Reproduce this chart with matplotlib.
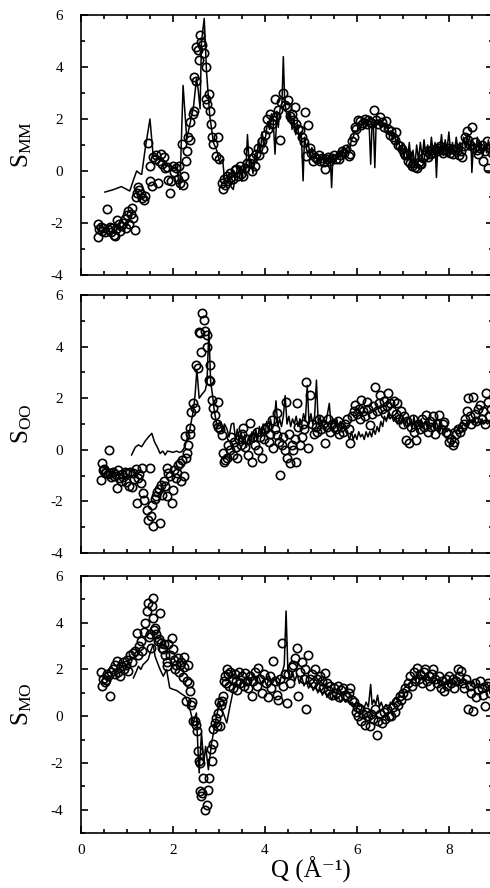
import numpy as np
import matplotlib.pyplot as plt
from matplotlib.ticker import MultipleLocator

# ---- data: (Q, S) pairs ----
# S_MM : experiment (circles) and model (line)
mm_exp = [(0.36,-2.52),(0.38,-2.05),(0.40,-2.25),(0.43,-2.15),(0.45,-2.30),(0.48,-2.20),(0.52,-2.35),(0.56,-1.46),
          (0.58,-2.25),(0.62,-2.15),(0.65,-2.35),(0.68,-2.20),(0.72,-2.45),(0.74,-2.50),(0.77,-2.25),(0.79,-1.87),
          (0.82,-2.05),(0.85,-2.30),(0.88,-2.10),(0.92,-2.00),(0.95,-1.85),(0.97,-2.20),(1.00,-1.70),(1.03,-1.55),
          (1.05,-2.05),(1.08,-1.65),(1.10,-1.42),(1.14,-1.80),(1.17,-2.28),(1.19,-1.00),(1.21,-0.84),(1.24,-0.62),
          (1.27,-0.75),(1.30,-0.90),(1.33,-1.05),(1.36,-1.12),(1.40,-0.95),(1.45,1.07),(1.49,0.20),(1.50,-0.40),
          (1.54,-0.58),(1.56,0.55),(1.60,0.45),(1.64,0.62),(1.67,-0.45),(1.70,0.40),(1.73,0.65),(1.76,0.25),
          (1.80,0.55),(1.83,0.10),(1.86,0.15),(1.90,-0.35),(1.93,-0.84),(1.96,-0.40),(2.00,0.20),(2.03,-0.05),
          (2.07,0.10),(2.10,-0.30),(2.14,0.20),(2.16,-0.45),(2.19,1.03),(2.22,-0.52),(2.25,-0.20),(2.28,0.39),
          (2.31,0.77),(2.33,1.29),(2.36,1.20),(2.38,1.87),(2.43,2.19),(2.46,2.32),(2.46,3.61),(2.50,3.48),
          (2.51,4.77),(2.55,4.65),(2.57,4.26),(2.59,5.23),(2.62,4.97),(2.64,4.85),(2.67,4.52),(2.71,2.77),
          (2.72,4.00),(2.75,2.58),(2.79,2.97),(2.80,2.32),(2.82,1.81),(2.84,1.29),(2.88,1.03),(2.94,0.58),
          (2.97,1.29),(3.01,0.45),(3.06,-0.45),(3.09,-0.71),(3.11,-0.30),(3.14,-0.55),(3.17,-0.19),(3.20,-0.40),
          (3.24,-0.06),(3.27,-0.25),(3.31,-0.32),(3.34,0.05),(3.38,0.06),(3.41,-0.20),(3.46,0.19),(3.49,-0.10),
          (3.53,-0.19),(3.56,0.10),(3.60,0.30),(3.64,0.78),(3.67,0.30),(3.71,0.00),(3.74,0.50),(3.78,0.20),
          (3.81,0.65),(3.85,0.90),(3.88,0.60),(3.93,1.16),(3.96,0.85),(4.00,1.40),(4.04,2.00),(4.07,1.60),
          (4.11,2.20),(4.15,1.80),(4.18,1.95),(4.21,2.78),(4.25,2.10),(4.28,2.33),(4.33,1.20),(4.36,2.65),
          (4.40,3.00),(4.44,2.55),(4.47,2.46),(4.51,2.72),(4.54,2.10),(4.58,2.20),(4.61,1.95),(4.65,2.46),
          (4.68,1.80),(4.72,1.60),(4.77,1.56),(4.80,1.30),(4.84,1.10),(4.87,2.27),(4.90,0.59),(4.94,1.75),
          (4.97,0.90),(5.01,0.70),(5.05,0.40),(5.09,0.55),(5.13,0.45),(5.17,0.60),(5.20,0.40),(5.24,0.50),
          (5.28,0.35),(5.30,0.07),(5.34,0.45),(5.38,0.55),(5.42,0.40),(5.46,0.50),(5.50,0.60),(5.55,0.45),
          (5.60,0.46),(5.64,0.60),(5.68,0.75),(5.72,0.70),(5.77,0.85),(5.82,0.59),(5.85,0.65),(5.89,1.16),
          (5.93,1.30),(5.96,1.68),(5.99,1.60),(6.03,1.95),(6.06,1.94),(6.10,1.75),(6.14,1.85),(6.17,2.00),
          (6.21,1.80),(6.25,1.95),(6.29,1.90),(6.33,1.85),(6.37,2.33),(6.41,1.95),(6.45,1.80),(6.50,2.07),
          (6.54,1.90),(6.58,1.70),(6.64,1.94),(6.68,1.60),(6.71,1.40),(6.75,1.55),(6.79,1.30),(6.83,1.20),
          (6.86,1.49),(6.90,1.00),(6.94,0.97),(6.98,0.85),(7.02,0.70),(7.05,0.60),(7.08,0.65),(7.12,0.40),
          (7.15,0.30),(7.19,0.20),(7.23,0.30),(7.27,0.15),(7.30,0.13),(7.34,0.35),(7.37,0.25),(7.40,0.26),
          (7.44,0.50),(7.48,0.60),(7.52,0.75),(7.55,0.55),(7.58,0.65),(7.62,0.80),(7.66,0.70),(7.70,0.85),
          (7.74,0.75),(7.77,0.90),(7.80,0.97),(7.84,0.80),(7.88,0.70),(7.92,0.85),(7.95,0.78),(7.99,0.90),
          (8.03,0.70),(8.06,0.85),(8.10,0.65),(8.14,0.80),(8.18,0.90),(8.22,0.60),(8.26,0.75),(8.28,0.52),
          (8.32,0.95),(8.35,1.30),(8.39,1.55),(8.42,1.20),(8.46,1.00),(8.50,1.68),(8.54,0.90),(8.57,1.10),
          (8.61,0.80),(8.64,0.65),(8.68,0.90),(8.71,1.00),(8.75,0.39),(8.78,0.75),(8.82,1.16),(8.86,0.13),
          (8.90,0.90),(8.93,0.70)]
mm_fit = [(0.52,-0.81),(0.70,-0.72),(0.88,-0.60),(1.06,-0.77),(1.14,-0.35),(1.21,0.00),(1.28,-0.10),(1.32,-0.13),
          (1.40,0.90),(1.50,2.00),(1.57,0.58),(1.64,0.55),(1.72,0.45),(1.79,0.35),(1.86,0.19),(1.93,0.20),
          (2.00,0.13),(2.08,0.15),(2.15,-0.71),(2.22,3.29),(2.30,1.23),(2.38,1.90),(2.45,2.52),(2.51,3.55),
          (2.55,3.10),(2.59,2.39),(2.62,4.97),(2.68,5.87),(2.73,3.81),(2.80,2.13),(2.88,1.10),(2.95,0.80),
          (3.02,0.32),(3.08,0.45),(3.12,-0.30),(3.17,-0.45),(3.22,-0.10),(3.26,-0.60),(3.31,-0.71),(3.36,-0.20),
          (3.40,0.10),(3.46,0.19),(3.50,-0.40),(3.54,0.30),(3.58,-0.20),(3.62,1.40),(3.66,0.20),(3.70,0.40),
          (3.74,-0.10),(3.78,0.60),(3.82,0.30),(3.86,1.20),(3.90,0.70),(3.94,1.50),(3.98,0.90),(4.02,1.40),
          (4.06,1.90),(4.10,1.60),(4.14,2.20),(4.18,1.90),(4.22,0.65),(4.26,2.30),(4.29,1.68),(4.33,2.40),
          (4.37,2.60),(4.40,4.40),(4.43,2.70),(4.47,2.20),(4.51,1.90),(4.55,2.30),(4.59,1.60),(4.63,2.00),
          (4.67,1.40),(4.71,1.80),(4.75,1.20),(4.79,1.50),(4.83,-0.38),(4.86,1.30),(4.90,0.90),(4.94,1.10),
          (4.98,0.60),(5.02,0.90),(5.06,0.40),(5.10,0.70),(5.14,0.30),(5.18,0.60),(5.22,0.40),(5.26,0.70),
          (5.30,0.35),(5.34,0.55),(5.38,0.40),(5.42,0.60),(5.45,-0.64),(5.48,0.60),(5.52,0.40),(5.56,0.70),
          (5.60,0.50),(5.64,0.80),(5.68,0.60),(5.72,0.90),(5.76,0.70),(5.80,1.00),(5.84,0.80),(5.88,1.20),
          (5.92,1.30),(5.96,1.55),(6.00,1.50),(6.04,1.80),(6.08,1.70),(6.12,1.90),(6.16,1.80),(6.20,2.00),
          (6.24,1.90),(6.27,1.60),(6.30,0.26),(6.33,1.80),(6.36,1.70),(6.39,0.13),(6.42,1.90),(6.46,1.80),
          (6.50,1.95),(6.54,1.70),(6.58,1.85),(6.62,1.60),(6.66,1.75),(6.70,1.40),(6.74,1.55),(6.78,1.20),
          (6.82,1.40),(6.86,1.00),(6.90,1.30),(6.94,0.80),(6.98,1.00),(7.02,0.50),(7.06,0.90),(7.10,0.40),
          (7.14,1.10),(7.18,0.30),(7.22,0.80),(7.26,0.20),(7.30,1.00),(7.34,0.40),(7.38,1.10),(7.42,0.50),
          (7.46,1.20),(7.50,0.60),(7.54,1.00),(7.58,0.50),(7.62,1.30),(7.66,0.70),(7.70,1.10),(7.73,-0.25),
          (7.76,1.00),(7.80,0.70),(7.84,1.40),(7.88,0.60),(7.92,1.20),(7.96,0.80),(8.00,1.50),(8.04,0.70),
          (8.08,1.10),(8.12,0.60),(8.16,1.30),(8.20,0.80),(8.24,1.10),(8.28,0.70),(8.32,1.30),(8.36,0.90),
          (8.40,1.40),(8.44,0.80),(8.48,1.20),(8.50,-0.06),(8.54,1.10),(8.58,0.70),(8.62,1.30),(8.66,0.80),
          (8.70,1.10),(8.74,0.60),(8.78,1.00),(8.82,0.70),(8.86,1.20),(8.90,0.80),(8.94,1.00)]

# S_OO
oo_exp = [(0.43,-1.16),(0.45,-0.52),(0.47,-0.80),(0.50,-0.75),(0.52,-0.90),(0.55,-0.85),(0.58,-0.95),(0.61,0.00),
          (0.63,-0.90),(0.66,-1.05),(0.69,-0.85),(0.72,-1.00),(0.75,-0.95),(0.78,-1.48),(0.80,-0.80),(0.83,-1.10),
          (0.86,-1.20),(0.89,-0.95),(0.92,-1.05),(0.95,-0.85),(0.98,-1.25),(1.01,-0.90),(1.04,-1.40),(1.07,-0.85),
          (1.10,-1.45),(1.13,-0.90),(1.16,-1.15),(1.19,-0.75),(1.21,-2.06),(1.24,-1.10),(1.27,-0.95),(1.30,-1.30),
          (1.33,-0.72),(1.35,-1.68),(1.38,-1.95),(1.43,-2.32),(1.46,-2.71),(1.50,-0.71),(1.52,-2.55),(1.54,-2.13),
          (1.57,-2.97),(1.60,-1.90),(1.63,-1.80),(1.66,-1.65),(1.69,-1.50),(1.72,-2.84),(1.74,-1.35),(1.77,-1.75),
          (1.80,-1.20),(1.83,-1.40),(1.86,-0.71),(1.88,-1.80),(1.90,-0.90),(1.94,-1.00),(1.97,-2.06),(2.00,-1.55),
          (2.03,-0.80),(2.06,-1.10),(2.08,-0.90),(2.11,-0.60),(2.15,-0.52),(2.18,-1.20),(2.20,-0.40),(2.23,-1.00),
          (2.26,0.52),(2.28,-0.30),(2.30,-0.13),(2.33,0.19),(2.36,0.60),(2.38,0.84),(2.40,1.48),(2.44,1.80),
          (2.48,1.61),(2.51,3.29),(2.55,3.16),(2.57,4.58),(2.59,4.52),(2.62,3.81),(2.64,5.32),(2.67,5.03),
          (2.70,4.60),(2.73,4.45),(2.74,4.00),(2.78,2.70),(2.80,3.29),(2.80,2.65),(2.84,1.94),(2.88,1.61),
          (2.91,1.35),(2.95,1.00),(2.99,1.87),(2.99,0.90),(3.03,0.80),(3.06,0.58),(3.08,-0.13),(3.10,-0.46),
          (3.13,-0.39),(3.17,-0.33),(3.20,0.20),(3.24,0.00),(3.27,0.50),(3.30,-0.20),(3.33,0.30),(3.37,0.10),
          (3.40,-0.30),(3.43,0.40),(3.47,0.20),(3.50,0.60),(3.53,0.83),(3.56,0.10),(3.60,0.40),(3.64,-0.20),
          (3.68,1.03),(3.71,-0.46),(3.74,0.50),(3.78,0.20),(3.82,0.70),(3.86,0.00),(3.90,0.50),(3.93,-0.33),
          (3.97,0.40),(4.00,0.80),(4.04,0.90),(4.08,0.30),(4.12,0.60),(4.15,1.16),(4.18,0.06),(4.22,0.80),
          (4.26,1.41),(4.26,0.57),(4.30,0.30),(4.33,-0.98),(4.37,0.20),(4.40,0.50),(4.43,0.00),(4.45,1.87),
          (4.48,-0.30),(4.52,0.60),(4.55,-0.50),(4.58,0.20),(4.62,-0.01),(4.65,0.40),(4.67,-0.46),(4.69,1.80),
          (4.72,0.90),(4.76,0.20),(4.80,0.50),(4.83,1.00),(4.86,0.80),(4.90,2.64),(4.94,0.06),(4.98,2.12),
          (5.02,1.00),(5.06,0.60),(5.10,0.90),(5.14,0.70),(5.18,1.20),(5.22,0.80),(5.26,1.00),(5.30,0.25),
          (5.34,0.90),(5.38,1.20),(5.42,0.70),(5.46,1.00),(5.50,0.90),(5.54,0.80),(5.58,1.10),(5.62,0.60),
          (5.66,0.90),(5.70,0.70),(5.74,1.00),(5.78,1.20),(5.82,0.80),(5.85,0.25),(5.90,1.30),(5.93,1.50),
          (5.96,1.74),(6.00,1.40),(6.04,1.60),(6.07,1.20),(6.10,1.93),(6.14,1.50),(6.17,1.30),(6.21,1.87),
          (6.25,1.60),(6.28,0.96),(6.32,1.40),(6.36,1.70),(6.39,2.45),(6.43,1.50),(6.47,1.80),(6.50,2.12),
          (6.54,1.60),(6.58,1.90),(6.62,1.40),(6.65,1.70),(6.68,2.19),(6.72,1.80),(6.76,1.50),(6.80,1.90),
          (6.84,1.40),(6.88,1.80),(6.92,1.20),(6.96,1.50),(7.00,1.00),(7.03,1.30),(7.07,0.38),(7.10,1.10),
          (7.14,0.25),(7.18,0.90),(7.22,1.20),(7.25,0.70),(7.29,0.38),(7.33,1.00),(7.37,0.80),(7.41,1.20),
          (7.45,0.90),(7.50,1.35),(7.54,0.70),(7.58,1.10),(7.62,0.90),(7.66,1.30),(7.70,0.60),(7.74,1.00),
          (7.79,1.35),(7.83,0.80),(7.87,1.00),(7.90,1.09),(7.94,0.70),(7.98,0.60),(8.00,0.32),(8.04,0.40),
          (8.08,0.19),(8.12,0.30),(8.16,0.60),(8.20,0.80),(8.24,0.70),(8.28,0.90),(8.32,1.00),(8.36,1.20),
          (8.40,1.50),(8.42,2.00),(8.46,1.30),(8.49,1.00),(8.52,2.06),(8.56,1.40),(8.60,1.10),(8.64,1.60),
          (8.67,1.74),(8.71,1.20),(8.75,1.50),(8.78,1.00),(8.80,2.19),(8.85,1.87),(8.88,1.30),(8.92,1.60)]
oo_fit = [(1.10,-0.20),(1.18,0.10),(1.25,0.19),(1.32,0.12),(1.40,0.35),(1.47,0.50),(1.54,0.64),(1.60,0.30),
          (1.66,0.10),(1.72,-0.14),(1.78,-0.05),(1.83,-0.20),(1.88,-0.05),(1.94,-0.07),(2.00,-0.10),(2.08,-0.05),
          (2.14,-0.10),(2.19,-0.07),(2.26,0.12),(2.32,0.50),(2.37,0.83),(2.44,1.48),(2.48,2.10),(2.52,3.10),
          (2.57,2.00),(2.63,2.15),(2.70,2.30),(2.74,2.60),(2.78,4.64),(2.82,2.64),(2.86,2.12),(2.90,1.50),
          (2.96,0.90),(3.03,1.10),(3.08,0.70),(3.12,1.00),(3.17,0.83),(3.22,0.50),(3.27,1.00),(3.32,1.03),
          (3.36,0.40),(3.40,0.80),(3.44,0.30),(3.48,0.70),(3.52,0.20),(3.56,0.60),(3.60,0.10),(3.64,0.50),
          (3.68,0.20),(3.72,0.70),(3.76,0.30),(3.80,0.80),(3.84,0.40),(3.88,0.90),(3.92,0.50),(3.96,1.00),
          (4.00,0.60),(4.04,1.10),(4.08,0.70),(4.12,1.20),(4.16,0.80),(4.20,1.00),(4.24,1.90),(4.28,0.90),
          (4.32,1.20),(4.36,0.90),(4.40,1.30),(4.44,2.10),(4.48,1.00),(4.52,1.30),(4.56,0.90),(4.60,1.20),
          (4.64,1.00),(4.68,1.30),(4.72,0.90),(4.76,1.20),(4.80,1.00),(4.84,1.40),(4.88,1.10),(4.92,2.50),
          (4.96,1.00),(5.00,1.40),(5.04,1.00),(5.08,1.30),(5.12,2.70),(5.16,1.00),(5.20,1.30),(5.24,0.90),
          (5.28,1.20),(5.32,1.00),(5.36,1.40),(5.40,1.80),(5.44,0.90),(5.48,1.20),(5.52,1.00),(5.56,1.20),
          (5.60,0.90),(5.64,1.10),(5.68,0.80),(5.72,1.00),(5.76,0.70),(5.80,0.60),(5.84,0.40),(5.88,0.70),
          (5.92,0.40),(5.96,0.60),(6.00,0.40),(6.04,0.70),(6.08,0.50),(6.12,0.60),(6.16,0.40),(6.20,0.70),
          (6.24,0.50),(6.28,0.70),(6.32,0.50),(6.36,0.80),(6.40,0.60),(6.44,0.90),(6.48,0.70),(6.52,1.10),
          (6.56,0.90),(6.60,1.30),(6.64,1.10),(6.68,1.40),(6.72,1.20),(6.76,1.30),(6.80,1.10),(6.84,1.30),
          (6.88,1.00),(6.92,1.20),(6.96,1.00),(7.00,1.30),(7.04,0.90),(7.08,1.20),(7.12,0.90),(7.16,1.10),
          (7.20,0.80),(7.24,1.30),(7.28,0.80),(7.32,1.10),(7.36,0.90),(7.40,1.20),(7.44,0.80),(7.48,1.10),
          (7.52,0.90),(7.56,1.20),(7.60,0.80),(7.64,1.00),(7.68,0.80),(7.72,1.10),(7.76,0.90),(7.80,0.70),
          (7.84,0.90),(7.88,0.70),(7.92,0.90),(7.96,0.70),(8.00,0.80),(8.04,0.70),(8.08,0.80),(8.12,0.80),
          (8.16,0.90),(8.20,0.80),(8.24,0.90),(8.28,0.90),(8.32,1.00),(8.36,0.90),(8.40,1.10),(8.44,1.00),
          (8.48,1.10),(8.52,1.00),(8.56,1.20),(8.60,1.00),(8.64,1.10),(8.68,1.00),(8.72,1.20),(8.76,1.00),
          (8.80,1.10),(8.84,1.00),(8.88,1.10),(8.92,1.00)]

# S_MO
mo_exp = [(0.43,1.89),(0.45,1.29),(0.48,1.60),(0.52,1.45),(0.54,1.57),(0.57,1.80),(0.59,1.71),(0.63,0.86),
          (0.66,1.90),(0.70,2.00),(0.73,1.80),(0.75,2.20),(0.78,2.36),(0.81,1.90),(0.85,1.71),(0.88,2.14),
          (0.91,2.30),(0.94,2.00),(0.97,2.20),(1.00,2.40),(1.03,1.95),(1.06,2.60),(1.10,2.30),(1.13,2.70),
          (1.17,2.79),(1.21,3.57),(1.24,2.60),(1.27,3.00),(1.30,3.20),(1.33,2.80),(1.37,3.60),(1.40,4.00),
          (1.43,4.50),(1.46,4.86),(1.48,3.40),(1.50,3.50),(1.52,2.90),(1.54,4.71),(1.56,4.21),(1.57,5.07),
          (1.59,3.70),(1.61,3.79),(1.64,3.50),(1.67,3.20),(1.69,3.30),(1.72,4.43),(1.75,3.14),(1.77,2.90),
          (1.79,2.86),(1.81,3.10),(1.83,2.64),(1.86,2.14),(1.88,2.30),(1.90,3.07),(1.94,2.60),(1.97,3.36),
          (2.00,2.86),(2.02,2.40),(2.04,2.00),(2.07,2.20),(2.11,2.50),(2.13,1.90),(2.15,2.21),(2.18,2.30),
          (2.21,1.69),(2.23,2.10),(2.25,2.54),(2.28,0.64),(2.30,1.50),(2.33,2.21),(2.35,1.40),(2.37,1.07),
          (2.40,0.50),(2.42,0.60),(2.44,-0.21),(2.47,-0.20),(2.50,-0.36),(2.53,-0.64),(2.55,-1.50),(2.57,-1.93),
          (2.59,-2.00),(2.59,-3.21),(2.62,-3.43),(2.64,-3.30),(2.66,-2.64),(2.70,-4.00),(2.73,-3.79),(2.77,-3.14),
          (2.79,-2.64),(2.82,-1.40),(2.84,-1.93),(2.86,-1.20),(2.88,-0.57),(2.91,-0.30),(2.94,-0.07),(2.95,-0.43),
          (2.97,0.14),(3.00,0.60),(3.02,-0.43),(3.04,0.50),(3.06,0.64),(3.09,0.86),(3.11,1.50),(3.13,1.71),
          (3.15,1.40),(3.17,2.00),(3.20,1.80),(3.22,1.30),(3.25,1.90),(3.28,1.60),(3.31,1.20),(3.34,1.80),
          (3.37,1.50),(3.40,1.10),(3.43,1.90),(3.46,1.40),(3.50,1.70),(3.54,1.30),(3.57,1.86),(3.60,1.50),
          (3.64,1.20),(3.68,1.70),(3.71,0.86),(3.75,1.50),(3.79,1.90),(3.83,1.30),(3.86,2.07),(3.90,1.60),
          (3.94,1.00),(3.98,1.80),(4.02,1.40),(4.06,0.80),(4.10,1.70),(4.14,1.20),(4.18,2.36),(4.22,1.50),
          (4.26,0.90),(4.29,0.71),(4.33,1.60),(4.37,3.14),(4.40,1.30),(4.44,1.80),(4.47,0.57),(4.51,1.79),
          (4.55,1.40),(4.58,2.10),(4.62,2.20),(4.65,2.50),(4.69,2.93),(4.72,0.86),(4.76,1.90),(4.80,2.30),
          (4.84,1.60),(4.87,2.00),(4.90,0.29),(4.94,2.64),(4.98,1.60),(5.02,1.80),(5.05,1.40),(5.09,2.00),
          (5.13,1.60),(5.17,1.30),(5.20,1.70),(5.24,1.50),(5.27,1.20),(5.30,1.86),(5.34,1.40),(5.38,1.10),
          (5.42,1.30),(5.46,0.90),(5.50,1.20),(5.54,1.00),(5.58,1.30),(5.62,0.80),(5.66,1.10),(5.70,1.20),
          (5.74,0.90),(5.78,0.80),(5.82,1.00),(5.85,1.21),(5.89,0.70),(5.93,0.60),(5.97,0.20),(6.00,0.40),
          (6.03,0.00),(6.07,0.30),(6.10,-0.20),(6.14,0.10),(6.17,-0.36),(6.20,0.20),(6.24,0.00),(6.28,-0.40),
          (6.31,0.10),(6.35,-0.10),(6.39,0.30),(6.43,-0.79),(6.46,-0.20),(6.50,0.10),(6.54,-0.30),(6.58,0.20),
          (6.62,-0.10),(6.66,0.30),(6.70,0.00),(6.75,0.00),(6.78,0.40),(6.82,0.20),(6.86,0.60),(6.90,0.50),
          (6.93,0.86),(6.97,0.70),(7.01,1.00),(7.05,1.20),(7.08,0.90),(7.12,1.43),(7.16,1.70),(7.20,1.30),
          (7.24,1.90),(7.27,1.50),(7.30,2.07),(7.34,1.60),(7.38,1.80),(7.42,1.40),(7.45,1.90),(7.48,2.00),
          (7.52,1.50),(7.56,1.70),(7.60,1.30),(7.63,1.80),(7.66,2.00),(7.70,1.60),(7.74,1.40),(7.78,1.70),
          (7.82,1.20),(7.86,1.50),(7.90,1.07),(7.94,1.60),(7.97,1.30),(8.01,1.70),(8.05,1.40),(8.09,1.60),
          (8.12,1.20),(8.16,1.50),(8.19,2.00),(8.22,1.70),(8.26,1.93),(8.30,1.40),(8.34,1.20),(8.38,1.60),
          (8.41,0.29),(8.45,1.30),(8.48,1.00),(8.52,0.21),(8.56,1.40),(8.60,0.80),(8.63,1.14),(8.67,1.50),
          (8.71,1.20),(8.75,0.90),(8.78,0.43),(8.82,1.30),(8.85,1.43),(8.89,1.00),(8.93,1.20)]
mo_fit = [(1.14,1.64),(1.20,1.90),(1.25,2.14),(1.30,2.00),(1.35,2.21),(1.40,2.30),(1.46,2.43),(1.52,2.80),
          (1.57,3.07),(1.61,2.57),(1.66,2.30),(1.72,2.00),(1.79,1.71),(1.86,2.00),(1.93,1.21),(2.00,1.15),
          (2.08,1.10),(2.15,1.00),(2.26,0.86),(2.32,0.60),(2.37,0.29),(2.44,-0.29),(2.51,0.14),(2.55,-1.71),
          (2.57,-2.43),(2.62,-0.71),(2.67,-2.00),(2.71,-1.29),(2.77,-2.29),(2.84,-1.14),(2.91,-0.43),(2.97,0.20),
          (3.02,0.57),(3.10,0.10),(3.17,-0.29),(3.24,0.43),(3.30,1.00),(3.38,1.43),(3.44,1.20),(3.50,1.60),
          (3.56,1.30),(3.62,1.70),(3.68,1.40),(3.74,1.80),(3.80,1.50),(3.86,1.70),(3.92,1.40),(3.98,1.60),
          (4.04,1.30),(4.10,1.70),(4.16,1.40),(4.22,1.60),(4.28,1.30),(4.33,1.50),(4.38,1.90),(4.42,2.20),
          (4.46,4.50),(4.50,1.90),(4.55,1.60),(4.60,1.90),(4.65,1.50),(4.70,1.80),(4.75,1.40),(4.80,1.70),
          (4.85,1.30),(4.90,1.50),(4.95,1.20),(5.00,1.40),(5.05,1.10),(5.10,1.30),(5.15,1.00),(5.20,1.20),
          (5.25,0.90),(5.30,1.10),(5.35,0.80),(5.40,1.00),(5.45,0.70),(5.50,0.90),(5.55,0.70),(5.60,0.80),
          (5.65,0.60),(5.70,0.80),(5.75,0.60),(5.80,0.70),(5.85,0.50),(5.90,0.60),(5.95,0.40),(6.00,0.60),
          (6.05,0.40),(6.10,0.50),(6.15,0.30),(6.20,0.60),(6.25,0.40),(6.30,1.36),(6.33,0.50),(6.37,0.70),
          (6.41,0.50),(6.45,0.90),(6.49,0.40),(6.53,0.60),(6.58,0.30),(6.63,0.50),(6.68,0.30),(6.73,0.60),
          (6.78,0.50),(6.83,0.80),(6.88,0.70),(6.93,1.00),(6.98,1.00),(7.03,1.20),(7.08,1.30),(7.13,1.40),
          (7.18,1.50),(7.23,1.70),(7.28,1.50),(7.33,1.80),(7.38,1.60),(7.43,1.70),(7.48,1.50),(7.53,1.80),
          (7.58,1.50),(7.63,1.60),(7.68,1.40),(7.73,1.60),(7.78,1.40),(7.83,1.50),(7.88,1.30),(7.93,1.50),
          (7.98,1.30),(8.03,1.50),(8.08,1.40),(8.13,1.50),(8.18,1.30),(8.23,1.50),(8.28,1.40),(8.33,1.60),
          (8.38,1.40),(8.43,1.50),(8.48,1.30),(8.53,1.50),(8.58,1.30),(8.63,1.40),(8.68,1.20),(8.73,1.40),
          (8.78,1.30),(8.83,1.40),(8.88,1.20),(8.93,1.30)]

panel_labels = [r"$\mathrm{S_{MM}}$", r"$\mathrm{S_{OO}}$", r"$\mathrm{S_{MO}}$"]
panel_ylims = [(-4, 6), (-4, 6), (-5, 6)]

# ---- style ----
plt.rcParams["font.family"] = ["Liberation Serif", "DejaVu Serif"]
plt.rcParams["mathtext.fontset"] = "custom"
plt.rcParams["mathtext.rm"] = "Liberation Serif"
plt.rcParams["axes.unicode_minus"] = False

fig = plt.figure(figsize=(4.9, 8.88), dpi=100)
W, H = 490.0, 888.0
left_px, right_px = 81, 493
# (top, bottom) pixel rows of each panel
rows = [(15, 275), (295, 553), (576, 833)]

series = [(mm_exp, mm_fit), (oo_exp, oo_fit), (mo_exp, mo_fit)]
for i, ((exp, fit), (top, bot)) in enumerate(zip(series, rows)):
    ax = fig.add_axes([left_px / W, 1 - bot / H, (right_px - left_px) / W, (bot - top) / H])
    eq, es = np.array(exp).T
    fq, fs = np.array(fit).T
    ax.plot(fq, fs, color="black", lw=1.1, zorder=2)
    ax.plot(eq, es, "o", mfc="none", mec="black", ms=6, mew=1.2, zorder=3)

    ax.set_xlim(0, 8.96)
    ax.set_ylim(*panel_ylims[i])
    ax.xaxis.set_major_locator(MultipleLocator(2))
    ax.xaxis.set_minor_locator(MultipleLocator(0.5))
    ax.set_yticks(np.arange(-4, 7, 2))
    ax.yaxis.set_minor_locator(MultipleLocator(1))
    ax.tick_params(which="both", direction="in", top=True, right=True, width=1.2, labelsize=11)
    ax.tick_params(which="major", length=5)
    ax.tick_params(which="minor", length=3)
    ax.tick_params(axis="y", pad=13)
    ax.tick_params(axis="x", pad=8)
    for sp in ax.spines.values():
        sp.set_linewidth(1.2)

    ax.set_ylabel(panel_labels[i], fontsize=18)
    ax.yaxis.set_label_coords(-0.115, 0.5)
    if i < 2:
        ax.tick_params(labelbottom=False)
    else:
        ax.set_xlabel("Q (Å\u207b\u00b9)", fontsize=18)
        ax.xaxis.set_label_coords(0.558, -0.09)

fig.savefig("out.png", dpi=100)
